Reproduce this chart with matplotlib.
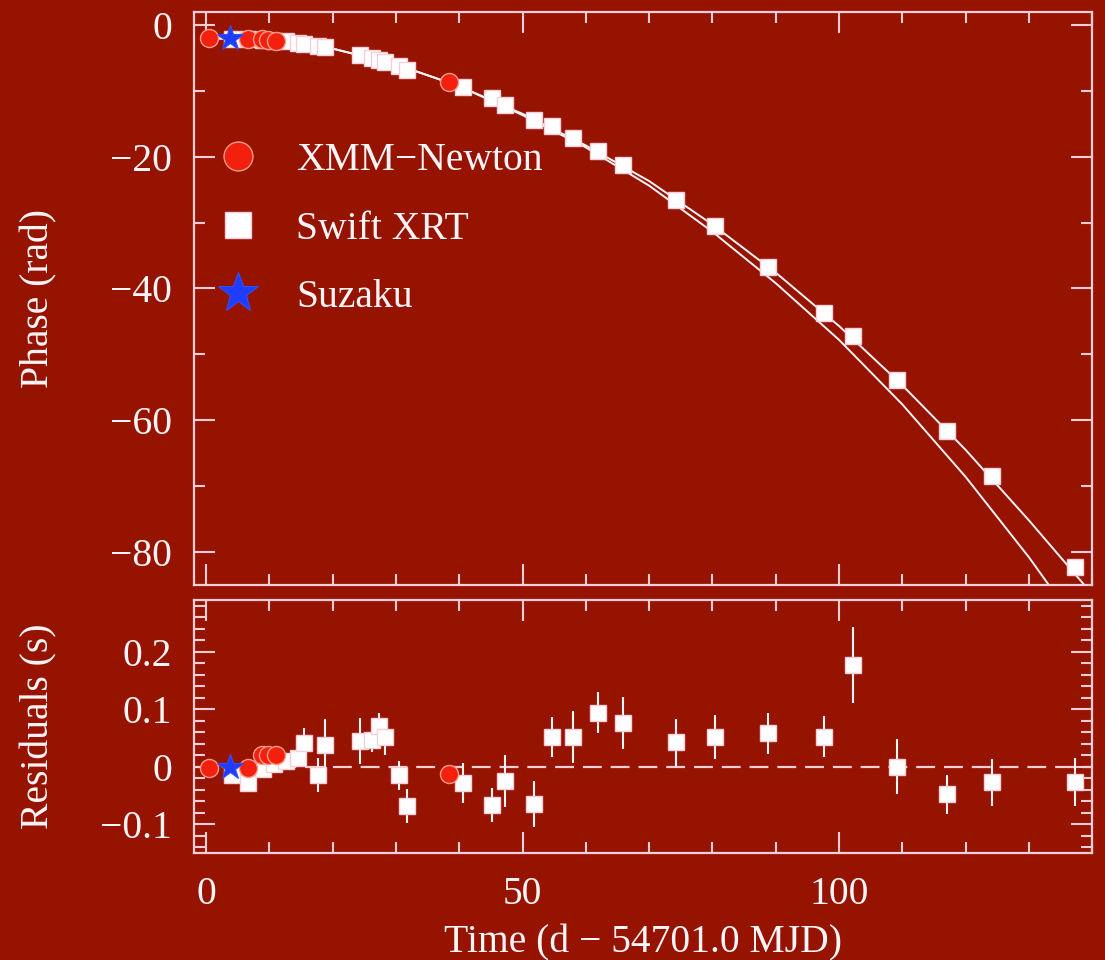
import numpy as np
import matplotlib
matplotlib.use("Agg")
import matplotlib.pyplot as plt
from matplotlib.ticker import MultipleLocator, FuncFormatter

plt.rcParams['font.family'] = ['Liberation Serif', 'DejaVu Serif']

# colours of the original plot
bg = '#961300'
fg = '#f7cdd8'
white = '#fff4f7'
fs = 28.5

# Swift XRT: time (d), phase (rad), residual (s), residual error (s)
swift_t = [4.1, 6.7, 9.0, 10.8, 12.6, 14.6, 15.4, 17.7, 18.8, 24.3, 26.2, 27.3, 28.3,
           30.5, 31.7, 40.6, 45.1, 47.2, 51.8, 54.6, 58.0, 61.9, 65.8, 74.3, 80.4,
           88.8, 97.6, 102.2, 109.2, 117.1, 124.1, 137.2]
swift_phase = [-2.1, -2.2, -2.3, -2.4, -2.5, -2.8, -2.9, -3.2, -3.4, -4.6, -5.0, -5.4, -5.6,
               -6.2, -6.9, -9.5, -11.1, -12.2, -14.5, -15.3, -17.2, -19.1, -21.3, -26.5, -30.5,
               -36.7, -43.7, -47.2, -53.9, -61.7, -68.5, -82.3]
swift_res = [-0.015, -0.029, -0.005, 0.005, 0.01, 0.015, 0.041, -0.015, 0.037, 0.044, 0.046,
             0.07, 0.051, -0.015, -0.069, -0.029, -0.067, -0.025, -0.065, 0.051, 0.052, 0.094,
             0.076, 0.042, 0.051, 0.058, 0.052, 0.177, 0.0, -0.048, -0.027, -0.027]
swift_err = [0.01, 0.01, 0.01, 0.01, 0.012, 0.015, 0.027, 0.03, 0.045, 0.04, 0.02, 0.023,
             0.03, 0.025, 0.03, 0.035, 0.03, 0.045, 0.04, 0.035, 0.045, 0.035, 0.046, 0.041,
             0.038, 0.036, 0.036, 0.066, 0.048, 0.034, 0.041, 0.042]

# XMM-Newton
xmm_t = [0.4, 6.6, 8.8, 9.8, 11.0, 38.4]
xmm_phase = [-2.0, -2.1, -2.2, -2.3, -2.4, -8.6]
xmm_res = [-0.003, -0.003, 0.02, 0.02, 0.02, -0.013]

# Suzaku
suz_t = [3.8]
suz_phase = [-2.0]
suz_res = [0.0]

# model curves
fit_t = [0, 10, 20, 30, 40, 50, 60, 70, 80, 90, 100, 110, 120, 130, 140]
fit_upper = [-2.0, -2.3, -3.6, -6.0, -9.3, -13.5, -18.3, -23.7, -30.3, -37.6, -45.7,
             -54.7, -64.5, -75.2, -86.4]
fit_lower = [-2.0, -2.3, -3.6, -6.0, -9.3, -13.7, -18.6, -24.4, -31.4, -39.2, -47.8,
             -57.6, -68.6, -80.8, -94.2]

fig = plt.figure(figsize=(11.05, 9.6), dpi=100, facecolor=bg)
ax1 = fig.add_axes([0.1756, 0.3906, 0.8129, 0.5972])
ax2 = fig.add_axes([0.1756, 0.1111, 0.8129, 0.2639])


def style(ax):
    ax.set_facecolor(bg)
    for s in ax.spines.values():
        s.set_color(fg)
        s.set_linewidth(1.6)
    ax.tick_params(which='both', direction='in', top=True, right=True,
                   colors=fg, width=1.5, labelcolor=white, labelsize=fs, pad=16)
    ax.tick_params(which='major', length=15)
    ax.tick_params(which='minor', length=8)
    ax.xaxis.set_major_locator(MultipleLocator(50))
    ax.xaxis.set_minor_locator(MultipleLocator(10))
    ax.set_xlim(-1.9, 140)


fmt = FuncFormatter(lambda v, p: ('%g' % round(v, 6)).replace('-', '\u2212'))

# top panel: phase
style(ax1)
ax1.plot(fit_t, fit_upper, color=white, lw=1.4, zorder=2)
ax1.plot(fit_t, fit_lower, color=white, lw=1.4, zorder=2)
ax1.plot(swift_t, swift_phase, 's', ms=12, mfc='white', mec=fg, mew=1.0, zorder=3,
         label='Swift XRT', ls='none')
ax1.plot(xmm_t, xmm_phase, 'o', ms=13, mfc='#f2200c', mec='#ff9a8a', mew=1.0, zorder=4,
         label='XMM\u2212Newton', ls='none')
ax1.plot(suz_t, suz_phase, '*', ms=19, mfc='#1f3cff', mec='#3050ff', mew=0.8, zorder=5,
         label='Suzaku', ls='none')
ax1.set_ylim(-85, 2)
ax1.yaxis.set_major_locator(MultipleLocator(20))
ax1.yaxis.set_minor_locator(MultipleLocator(10))
ax1.yaxis.set_major_formatter(fmt)
ax1.tick_params(labelbottom=False)
ax1.set_ylabel('Phase (rad)', fontsize=fs, color=white)
ax1.yaxis.set_label_coords(-0.152, 0.5)

h, l = ax1.get_legend_handles_labels()
order = [1, 0, 2]
leg = ax1.legend([h[i] for i in order], [l[i] for i in order], loc='upper left',
                 bbox_to_anchor=(0.022, 0.773), frameon=False, fontsize=fs,
                 markerscale=1.6, handlelength=1.2, handletextpad=0.88,
                 labelspacing=0.8, borderpad=0, borderaxespad=0)
for t in leg.get_texts():
    t.set_color(white)

# bottom panel: residuals
style(ax2)
ax2.axhline(0, color=fg, lw=1.6, dashes=(8.5, 4), zorder=1)
ax2.errorbar(swift_t, swift_res, yerr=swift_err, fmt='s', ms=12, mfc='white', mec=fg,
             mew=1.0, ecolor=white, elinewidth=1.5, capsize=0, zorder=3)
ax2.plot(xmm_t, xmm_res, 'o', ms=13, mfc='#f2200c', mec='#ff9a8a', mew=1.0, zorder=4)
ax2.plot(suz_t, suz_res, '*', ms=19, mfc='#1f3cff', mec='#3050ff', mew=0.8, zorder=5)
ax2.set_ylim(-0.151, 0.29)
ax2.yaxis.set_major_locator(MultipleLocator(0.1))
ax2.yaxis.set_minor_locator(MultipleLocator(0.02))
ax2.yaxis.set_major_formatter(fmt)
ax2.xaxis.set_major_formatter(fmt)
ax2.set_ylabel('Residuals (s)', fontsize=fs, color=white)
ax2.yaxis.set_label_coords(-0.152, 0.5)
ax2.set_xlabel('Time (d \u2212 54701.0 MJD)', fontsize=fs, color=white)
ax2.xaxis.set_label_coords(0.5, -0.28)

fig.savefig('out.png', dpi=100, facecolor=bg)
